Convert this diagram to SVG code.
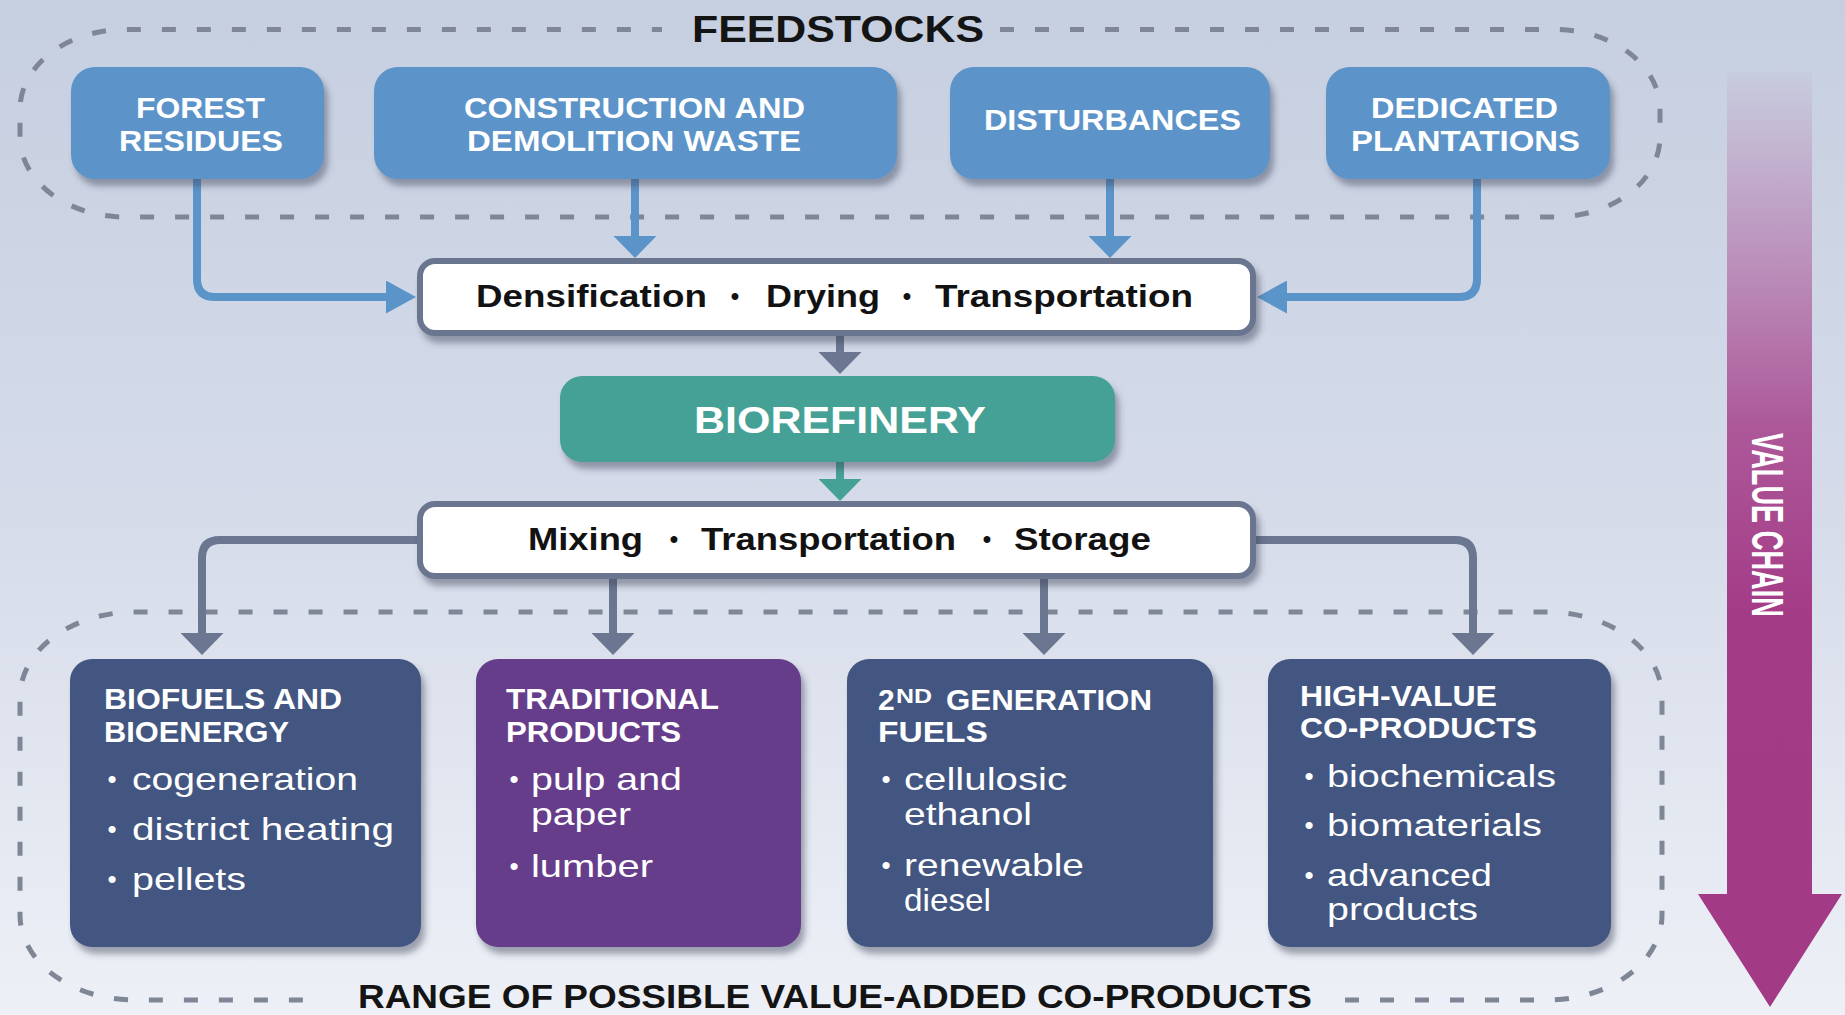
<svg xmlns="http://www.w3.org/2000/svg" width="1845" height="1015" viewBox="0 0 1845 1015">
  <defs>
    <linearGradient id="bg" x1="0" y1="0" x2="0" y2="1015" gradientUnits="userSpaceOnUse">
      <stop offset="0" stop-color="#c6cfe0"/>
      <stop offset="0.5" stop-color="#d5dbe9"/>
      <stop offset="1" stop-color="#edf0f6"/>
    </linearGradient>
    <linearGradient id="vc" x1="0" y1="72" x2="0" y2="1007" gradientUnits="userSpaceOnUse">
      <stop offset="0" stop-color="#a43b87" stop-opacity="0.03"/>
      <stop offset="0.18" stop-color="#a43b87" stop-opacity="0.4"/>
      <stop offset="0.38" stop-color="#a43b87" stop-opacity="0.82"/>
      <stop offset="0.58" stop-color="#a43b87" stop-opacity="1"/>
      <stop offset="1" stop-color="#a23a86" stop-opacity="1"/>
    </linearGradient>
    <filter id="shadow" x="-10%" y="-10%" width="125%" height="135%">
      <feDropShadow dx="4" dy="7" stdDeviation="3" flood-color="#3a4356" flood-opacity="0.45"/>
    </filter>
    <marker id="ah-blue-v" viewBox="0 0 22 43" refX="0" refY="21.5" markerWidth="22" markerHeight="43" markerUnits="userSpaceOnUse" orient="auto">
      <path d="M0,0 L22,21.5 L0,43 Z" fill="#5b94c9"/>
    </marker>
    <marker id="ah-blue-h" viewBox="0 0 30 33" refX="0" refY="16.5" markerWidth="30" markerHeight="33" markerUnits="userSpaceOnUse" orient="auto">
      <path d="M0,0 L30,16.5 L0,33 Z" fill="#5b94c9"/>
    </marker>
    <marker id="ah-gray-v" viewBox="0 0 22 43" refX="0" refY="21.5" markerWidth="22" markerHeight="43" markerUnits="userSpaceOnUse" orient="auto">
      <path d="M0,0 L22,21.5 L0,43 Z" fill="#6b7690"/>
    </marker>
    <marker id="ah-teal-v" viewBox="0 0 22 43" refX="0" refY="21.5" markerWidth="22" markerHeight="43" markerUnits="userSpaceOnUse" orient="auto">
      <path d="M0,0 L22,21.5 L0,43 Z" fill="#45a096"/>
    </marker>
  </defs>
  <style>
    text { font-family: "Liberation Sans", Arial, sans-serif; }
    .title { font-size: 37px; font-weight: bold; fill: #141414; }
    .feed { fill: #5b94c9; filter: url(#shadow); }
    .lbl { font-size: 29px; font-weight: bold; fill: #ffffff; }
    .hd { font-size: 30px; font-weight: bold; fill: #ffffff; }
    .sup { font-size: 21px; font-weight: bold; fill: #ffffff; }
    .body { font-size: 32px; fill: #ffffff; }
    .bullet { font-size: 26px; fill: #ffffff; }
    .step { fill: #ffffff; stroke: #6b7690; stroke-width: 6; filter: url(#shadow); }
    .steptxt { font-size: 32px; font-weight: bold; fill: #121212; }
    .dot { font-size: 24px; font-weight: bold; fill: #121212; }
    .prod { fill: #435781; filter: url(#shadow); }
    .prod-purple { fill: #663c8a; filter: url(#shadow); }
    .outline { fill: none; stroke: #7f8797; stroke-width: 5; stroke-dasharray: 14 21; }
    .blue { fill: none; stroke: #5b94c9; stroke-width: 8; }
    .gray { fill: none; stroke: #6b7690; stroke-width: 8; }
    .teal { fill: none; stroke: #45a096; stroke-width: 8; }
  </style>

  <!-- background -->
  <rect x="0" y="0" width="1845" height="1015" fill="url(#bg)"/>

  <!-- dashed group outlines with their captions -->
  <g id="feedstocks-group">
    <path class="outline" d="M1000,29.5 H1555 A105,80 0 0 1 1660,109.5 V137 A105,80 0 0 1 1555,217 H125 A105,80 0 0 1 20,137 V109.5 A105,80 0 0 1 125,29.5 H662"/>
    <text class="title" x="692" y="42" textLength="292" lengthAdjust="spacingAndGlyphs">FEEDSTOCKS</text>
  </g>
  <g id="coproducts-group">
    <path class="outline" d="M1345,1000 H1547 A115,85 0 0 0 1662,915 V697 A115,85 0 0 0 1547,612 H135 A115,85 0 0 0 20,697 V915 A115,85 0 0 0 135,1000 H322"/>
    <text class="title" x="358" y="1008" textLength="954" lengthAdjust="spacingAndGlyphs" style="font-size:33px">RANGE OF POSSIBLE VALUE-ADDED CO-PRODUCTS</text>
  </g>

  <!-- value chain arrow -->
  <g id="value-chain">
    <path d="M1727,72 H1812 V894 H1842 L1770,1007 L1698,894 H1727 Z" fill="url(#vc)"/>
    <text transform="translate(1752,525) rotate(90)" x="0" y="0" text-anchor="middle" font-size="44" font-weight="bold" fill="#ffffff" textLength="184" lengthAdjust="spacingAndGlyphs">VALUE CHAIN</text>
  </g>

  <!-- connectors -->
  <g id="connectors">
    <path class="blue" d="M197,179 V279 Q197,297 215,297 H386" marker-end="url(#ah-blue-h)"/>
    <path class="blue" d="M635,179 V236" marker-end="url(#ah-blue-v)"/>
    <path class="blue" d="M1110,179 V236" marker-end="url(#ah-blue-v)"/>
    <path class="blue" d="M1477,179 V279 Q1477,297 1459,297 H1287" marker-end="url(#ah-blue-h)"/>
    <path class="gray" d="M840,335 V352" marker-end="url(#ah-gray-v)"/>
    <path class="teal" d="M840,462 V479" marker-end="url(#ah-teal-v)"/>
    <path class="gray" d="M417,540 H220 Q202,540 202,558 V633" marker-end="url(#ah-gray-v)"/>
    <path class="gray" d="M613,579 V633" marker-end="url(#ah-gray-v)"/>
    <path class="gray" d="M1044,579 V633" marker-end="url(#ah-gray-v)"/>
    <path class="gray" d="M1256,540 H1455 Q1473,540 1473,558 V633" marker-end="url(#ah-gray-v)"/>
  </g>

  <!-- feedstock nodes -->
  <g id="forest-residues">
    <rect class="feed" x="71" y="67" width="253" height="112" rx="24"/>
    <text class="lbl" x="136" y="118" textLength="129" lengthAdjust="spacingAndGlyphs">FOREST</text>
    <text class="lbl" x="119" y="151" textLength="164" lengthAdjust="spacingAndGlyphs">RESIDUES</text>
  </g>
  <g id="construction-waste">
    <rect class="feed" x="374" y="67" width="523" height="112" rx="24"/>
    <text class="lbl" x="464" y="118" textLength="341" lengthAdjust="spacingAndGlyphs">CONSTRUCTION AND</text>
    <text class="lbl" x="467" y="151" textLength="334" lengthAdjust="spacingAndGlyphs">DEMOLITION WASTE</text>
  </g>
  <g id="disturbances">
    <rect class="feed" x="950" y="67" width="320" height="112" rx="24"/>
    <text class="lbl" x="984" y="130" textLength="257" lengthAdjust="spacingAndGlyphs">DISTURBANCES</text>
  </g>
  <g id="dedicated-plantations">
    <rect class="feed" x="1326" y="67" width="284" height="112" rx="24"/>
    <text class="lbl" x="1371" y="118" textLength="187" lengthAdjust="spacingAndGlyphs">DEDICATED</text>
    <text class="lbl" x="1351" y="151" textLength="229" lengthAdjust="spacingAndGlyphs">PLANTATIONS</text>
  </g>

  <!-- pre-processing step -->
  <g id="preprocessing">
    <rect class="step" x="420" y="261" width="833" height="72" rx="15"/>
    <text class="steptxt" x="476" y="307" textLength="231" lengthAdjust="spacingAndGlyphs">Densification</text>
    <text class="dot" x="735" y="304" text-anchor="middle">•</text>
    <text class="steptxt" x="766" y="307" textLength="114" lengthAdjust="spacingAndGlyphs">Drying</text>
    <text class="dot" x="907" y="304" text-anchor="middle">•</text>
    <text class="steptxt" x="935" y="307" textLength="258" lengthAdjust="spacingAndGlyphs">Transportation</text>
  </g>

  <!-- biorefinery -->
  <g id="biorefinery">
    <rect x="560" y="376" width="555" height="86" rx="22" fill="#45a096" filter="url(#shadow)"/>
    <text x="694" y="433" font-size="36" font-weight="bold" fill="#ffffff" textLength="292" lengthAdjust="spacingAndGlyphs">BIOREFINERY</text>
  </g>

  <!-- post-processing step -->
  <g id="postprocessing">
    <rect class="step" x="420" y="504" width="833" height="72" rx="15"/>
    <text class="steptxt" x="528" y="550" textLength="115" lengthAdjust="spacingAndGlyphs">Mixing</text>
    <text class="dot" x="674" y="547" text-anchor="middle">•</text>
    <text class="steptxt" x="701" y="550" textLength="255" lengthAdjust="spacingAndGlyphs">Transportation</text>
    <text class="dot" x="987" y="547" text-anchor="middle">•</text>
    <text class="steptxt" x="1014" y="550" textLength="137" lengthAdjust="spacingAndGlyphs">Storage</text>
  </g>

  <!-- co-product nodes -->
  <g id="biofuels-bioenergy">
    <rect class="prod" x="70" y="659" width="351" height="288" rx="22"/>
    <text class="hd" x="104" y="709" textLength="238" lengthAdjust="spacingAndGlyphs">BIOFUELS AND</text>
    <text class="hd" x="104" y="742" textLength="185" lengthAdjust="spacingAndGlyphs">BIOENERGY</text>
    <text class="bullet" x="112" y="788" text-anchor="middle">•</text>
    <text class="body" x="132" y="790" textLength="226" lengthAdjust="spacingAndGlyphs">cogeneration</text>
    <text class="bullet" x="112" y="838" text-anchor="middle">•</text>
    <text class="body" x="132" y="840" textLength="262" lengthAdjust="spacingAndGlyphs">district heating</text>
    <text class="bullet" x="112" y="888" text-anchor="middle">•</text>
    <text class="body" x="132" y="890" textLength="114" lengthAdjust="spacingAndGlyphs">pellets</text>
  </g>
  <g id="traditional-products">
    <rect class="prod-purple" x="476" y="659" width="325" height="288" rx="22"/>
    <text class="hd" x="506" y="709" textLength="213" lengthAdjust="spacingAndGlyphs">TRADITIONAL</text>
    <text class="hd" x="506" y="742" textLength="175" lengthAdjust="spacingAndGlyphs">PRODUCTS</text>
    <text class="bullet" x="514" y="788" text-anchor="middle">•</text>
    <text class="body" x="531" y="790" textLength="151" lengthAdjust="spacingAndGlyphs">pulp and</text>
    <text class="body" x="531" y="825" textLength="100" lengthAdjust="spacingAndGlyphs">paper</text>
    <text class="bullet" x="514" y="875" text-anchor="middle">•</text>
    <text class="body" x="531" y="877" textLength="122" lengthAdjust="spacingAndGlyphs">lumber</text>
  </g>
  <g id="second-generation-fuels">
    <rect class="prod" x="847" y="659" width="366" height="288" rx="22"/>
    <text class="hd" x="878" y="710">2</text>
    <text class="sup" x="896" y="703" textLength="36" lengthAdjust="spacingAndGlyphs">ND</text>
    <text class="hd" x="946" y="710" textLength="206" lengthAdjust="spacingAndGlyphs">GENERATION</text>
    <text class="hd" x="878" y="742" textLength="110" lengthAdjust="spacingAndGlyphs">FUELS</text>
    <text class="bullet" x="886" y="788" text-anchor="middle">•</text>
    <text class="body" x="904" y="790" textLength="163" lengthAdjust="spacingAndGlyphs">cellulosic</text>
    <text class="body" x="904" y="825" textLength="128" lengthAdjust="spacingAndGlyphs">ethanol</text>
    <text class="bullet" x="886" y="874" text-anchor="middle">•</text>
    <text class="body" x="904" y="876" textLength="180" lengthAdjust="spacingAndGlyphs">renewable</text>
    <text class="body" x="904" y="911" textLength="87" lengthAdjust="spacingAndGlyphs">diesel</text>
  </g>
  <g id="high-value-coproducts">
    <rect class="prod" x="1268" y="659" width="343" height="288" rx="22"/>
    <text class="hd" x="1300" y="706" textLength="197" lengthAdjust="spacingAndGlyphs">HIGH-VALUE</text>
    <text class="hd" x="1300" y="738" textLength="237" lengthAdjust="spacingAndGlyphs">CO-PRODUCTS</text>
    <text class="bullet" x="1309" y="785" text-anchor="middle">•</text>
    <text class="body" x="1327" y="787" textLength="229" lengthAdjust="spacingAndGlyphs">biochemicals</text>
    <text class="bullet" x="1309" y="834" text-anchor="middle">•</text>
    <text class="body" x="1327" y="836" textLength="215" lengthAdjust="spacingAndGlyphs">biomaterials</text>
    <text class="bullet" x="1309" y="884" text-anchor="middle">•</text>
    <text class="body" x="1327" y="886" textLength="165" lengthAdjust="spacingAndGlyphs">advanced</text>
    <text class="body" x="1327" y="920" textLength="151" lengthAdjust="spacingAndGlyphs">products</text>
  </g>
</svg>
